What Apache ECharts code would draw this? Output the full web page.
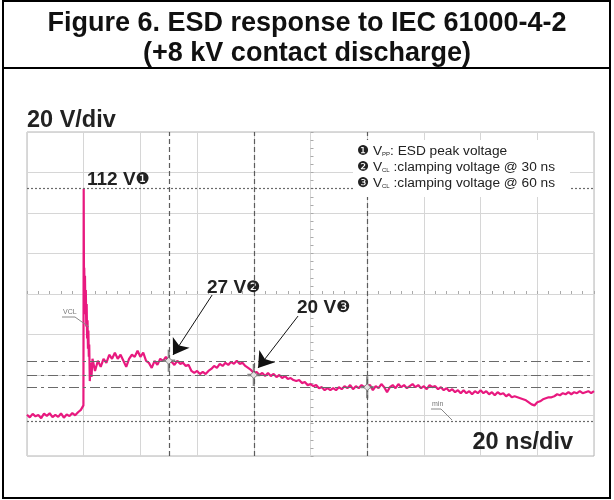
<!DOCTYPE html>
<html>
<head>
<meta charset="utf-8">
<script src="https://cdn.jsdelivr.net/npm/echarts@6/dist/echarts.min.js"></script>
<style>
  html, body { margin: 0; padding: 0; background: #fff; }
  #chart { width: 614px; height: 500px; }
</style>
</head>
<body>
<div id="chart"></div>
<script>
// scope trace: [time in ns (trigger = 0), volts]
var preTrigger = [
  [-20, 0.4], [-19, -0.9], [-18, 0.8], [-17, -0.4], [-16, 0.2], [-15, -1.3], [-14, 0.9], [-13, -0.2],
  [-12, 1.1], [-11, -0.8], [-10, 0.3], [-9, -0.7], [-8, 1.0], [-7, -1.1], [-6, 0.5], [-5, -0.3],
  [-4, 1.2], [-3, 0.1], [-2, 1.6], [-1, 2.8], [-0.4, 3.5]
]
var pulseEdge = [
  [-0.1, 5], [0, 112], [0.1, 64], [0.2, 73], [0.32, 56], [0.45, 69], [0.6, 50], [0.75, 62],
  [0.9, 44], [1.05, 55], [1.2, 38], [1.35, 47], [1.5, 33], [1.65, 42], [1.8, 29], [1.95, 35],
  [2.15, 17], [2.45, 26], [2.75, 19], [3.1, 28]
]
var clampTail = [
  [4, 22], [5, 27], [6, 24], [7, 28], [8, 26], [9, 30], [10, 28], [11, 31], [12, 28], [13, 30],
  [14, 27], [15, 24], [16, 28], [17, 30], [18, 29], [19, 32], [20, 29], [21, 31], [22, 27], [23, 26],
  [24, 23.5], [25, 27], [26, 25], [27, 28], [28, 27], [29, 29], [30, 27],
  [31, 26.5], [32, 25], [33, 27], [34, 25.5], [35, 26], [36, 24.5], [37, 25], [38, 22], [39, 21], [40, 22],
  [41, 20.5], [42, 21.5], [43, 20.5], [44, 22], [45, 23], [46, 24.5], [47, 23.5], [48, 25.5], [49, 24.5], [50, 26],
  [51, 25], [52, 26.5], [53, 25.5], [54, 27], [55, 25.5], [56, 26], [57, 24.5], [58, 23.5], [59, 22.5], [60, 21],
  [61, 21.5], [62, 20], [63, 21], [64, 19.5], [65, 21], [66, 19.5], [67, 20.5], [68, 19], [69, 20], [70, 18.5],
  [71, 19.5], [72, 18], [73, 18.5], [74, 17.5], [75, 17], [76, 17.5], [77, 16], [78, 16.5], [79, 15], [80, 15.5],
  [81, 14.5], [82, 15], [83, 13.5], [84, 14], [85, 12.5], [86, 13.5], [87, 12.5], [88, 13.5], [89, 12.5], [90, 14],
  [91, 13], [92, 14.5], [93, 13.5], [94, 15], [95, 13], [96, 14.5], [97, 13.5], [98, 15], [99, 14], [100, 14.5],
  [101, 15], [102, 12.5], [103, 14.5], [104, 13.5], [105, 15.5], [106, 14], [107, 11.5], [108, 14], [109, 15], [110, 13.5],
  [111, 15.5], [112, 14], [113, 15], [114, 13.5], [115, 14.5], [116, 15.5], [117, 14], [118, 15], [119, 13.5], [120, 14.5],
  [121, 13], [122, 15], [123, 14], [124, 14.5], [125, 13], [126, 14], [127, 12.5], [128, 13.5], [129, 12], [130, 13],
  [131, 11.5], [132, 12.5], [133, 11], [134, 12.5], [135, 11], [136, 12], [137, 10.5], [138, 12], [139, 11], [140, 12.5],
  [141, 11], [142, 12], [143, 10.5], [144, 11.5], [145, 10], [146, 11.5], [147, 10.5], [148, 11], [149, 9.5], [150, 10.5],
  [151, 9], [152, 9.5], [153, 9], [154, 8.5], [155, 8], [156, 7.5], [157, 6.5], [158, 5.5], [159, 5], [160, 6.5],
  [161, 7], [162, 8], [163, 8.5], [164, 9], [165, 9], [166, 9.5], [167, 10.5], [168, 10], [169, 11], [170, 10.5],
  [171, 11.5], [172, 10.5], [173, 11.5], [174, 11], [175, 12], [176, 11], [177, 11.5], [178, 12], [179, 11], [180, 12]
]

var cursorTimes = [30, 60, 100]   // ns
var cursorVolts = [27, 20, 14]    // V
var peakVolt = 112
var refVolt = -3
var timeRange = [-20, 180]  // 20 ns/div
var voltRange = [-20, 140]  // 20 V/div

var trace = preTrigger.concat(pulseEdge, clampTail)
var cursorPoints = cursorTimes.map(function (t, i) { return [t, cursorVolts[i]] })

var gridColor = '#d6d6d6'
var cursorColor = '#5c5c5c'
var plusPath = 'path://M5,0L7,0L7,8L12,8L12,10L7,10L7,18L5,18L5,10L0,10L0,8L5,8Z'
var boldFont = '"Liberation Sans", Arial, sans-serif'

var myChart = echarts.init(document.getElementById('chart'))

var option = {
  animation: false,
  title: {
    text: 'Figure 6. ESD response to IEC 61000-4-2\n(+8 kV contact discharge)',
    left: 'center',
    top: 4,
    textStyle: {
      fontFamily: boldFont,
      fontWeight: 'bold',
      fontSize: 27,
      lineHeight: 30,
      color: '#111'
    }
  },
  grid: {
    left: 27,
    top: 132,
    width: 567,
    height: 324,
    show: true,
    borderColor: '#b4b4b4',
    borderWidth: 1,
    backgroundColor: '#fff'
  },
  xAxis: [
    {
      type: 'value', min: timeRange[0], max: timeRange[1], interval: 20,
      axisLine: { show: false }, axisTick: { show: false }, axisLabel: { show: false },
      splitLine: { show: true, lineStyle: { color: gridColor, width: 1 } }
    },
    {
      // centre horizontal line with minor ticks, like a scope graticule
      type: 'value', min: timeRange[0], max: timeRange[1], interval: 20,
      axisLine: { show: true, onZero: true, onZeroAxisIndex: 1, lineStyle: { color: gridColor } },
      axisTick: { show: true, length: 3, lineStyle: { color: '#aaa' } },
      minorTick: { show: true, splitNumber: 5, length: 3, lineStyle: { color: '#aaa' } },
      axisLabel: { show: false }, splitLine: { show: false }
    },
    { type: 'value', min: -5, max: 5, show: false }
  ],
  yAxis: [
    {
      type: 'value', min: voltRange[0], max: voltRange[1], interval: 20,
      axisLine: { show: false }, axisTick: { show: false }, axisLabel: { show: false },
      splitLine: { show: true, lineStyle: { color: gridColor, width: 1 } }
    },
    { type: 'value', min: -4, max: 4, show: false },
    {
      type: 'value', min: voltRange[0], max: voltRange[1], interval: 20,
      axisLine: { show: true, onZero: true, onZeroAxisIndex: 2, lineStyle: { color: gridColor } },
      axisTick: { show: true, length: 3, lineStyle: { color: '#aaa' } },
      minorTick: { show: true, splitNumber: 5, length: 3, lineStyle: { color: '#aaa' } },
      axisLabel: { show: false }, splitLine: { show: false }
    }
  ],
  series: [
    {
      // cursors
      type: 'line',
      data: [],
      silent: true,
      markLine: {
        silent: true,
        symbol: 'none',
        label: { show: false },
        data: [
          { xAxis: cursorTimes[0], lineStyle: { type: [5, 3], color: cursorColor, width: 1.2 } },
          { xAxis: cursorTimes[1], lineStyle: { type: [5, 3], color: cursorColor, width: 1.2 } },
          { xAxis: cursorTimes[2], lineStyle: { type: [5, 3], color: cursorColor, width: 1.2 } },
          { yAxis: cursorVolts[0], lineStyle: { type: [10, 4, 3, 4], color: '#6a6a6a', width: 1.2 } },
          { yAxis: cursorVolts[1], lineStyle: { type: [10, 4, 3, 4], color: '#6a6a6a', width: 1.2 } },
          { yAxis: cursorVolts[2], lineStyle: { type: [10, 4, 3, 4], color: '#6a6a6a', width: 1.2 } },
          { yAxis: peakVolt, lineStyle: { type: [2, 2], color: '#6a6a6a', width: 1.2 } },
          { yAxis: refVolt, lineStyle: { type: [2, 2], color: '#6a6a6a', width: 1.2 } }
        ]
      }
    },
    {
      name: 'ESD',
      type: 'line',
      data: trace,
      showSymbol: false,
      lineStyle: { color: '#e8197f', width: 2.2 },
      itemStyle: { color: '#e8197f' }
    },
    {
      type: 'scatter',
      data: cursorPoints,
      symbol: plusPath,
      symbolSize: [13, 22],
      itemStyle: { color: '#737373', opacity: 0.85 },
      z: 4
    },
    {
      type: 'scatter',
      data: cursorPoints,
      symbol: 'diamond',
      symbolSize: 7,
      itemStyle: { color: '#fff', borderColor: '#666', borderWidth: 1 },
      z: 5
    },
    {
      // arrows to the measured points
      type: 'line',
      data: [],
      silent: true,
      z: 6,
      markLine: {
        silent: true,
        symbol: ['none', 'arrow'],
        symbolSize: 15,
        label: { show: false },
        lineStyle: { type: 'solid', color: '#111', width: 1 },
        itemStyle: { color: '#111' },
        data: [
          [{ coord: [45.3, 59.5] }, { coord: [31.5, 29.9] }],
          [{ coord: [75.6, 49.1] }, { coord: [61.5, 23.5] }]
        ]
      }
    }
  ],
  graphic: [
    { type: 'rect', z: 50, shape: { x: 3, y: 1, width: 607, height: 497 }, style: { fill: 'none', stroke: '#000', lineWidth: 2 } },
    { type: 'line', z: 50, shape: { x1: 3, y1: 68, x2: 610, y2: 68 }, style: { stroke: '#000', lineWidth: 2 } },
    {
      type: 'text', z: 50, x: 27, y: 121,
      style: { text: '20 V/div', font: 'bold 23.5px ' + boldFont, fill: '#222', textVerticalAlign: 'middle', verticalAlign: 'middle' }
    },
    {
      type: 'text', z: 50, x: 573, y: 443,
      style: { text: '20 ns/div', font: 'bold 23.5px ' + boldFont, fill: '#222', textAlign: 'right', align: 'right', textVerticalAlign: 'middle', verticalAlign: 'middle' }
    },
    {
      type: 'text', z: 50, x: 87, y: 180,
      style: {
        text: '112 V{n|❶}', font: 'bold 19px ' + boldFont, fill: '#222', textVerticalAlign: 'middle', verticalAlign: 'middle',
        rich: { n: { fontFamily: 'DejaVu Sans', fontSize: 16, fill: '#222' } }
      }
    },
    {
      type: 'text', z: 50, x: 207, y: 288,
      style: {
        text: '27 V{n|❷}', font: 'bold 19px ' + boldFont, fill: '#222', textVerticalAlign: 'middle', verticalAlign: 'middle',
        rich: { n: { fontFamily: 'DejaVu Sans', fontSize: 16, fill: '#222' } }
      }
    },
    {
      type: 'text', z: 50, x: 297, y: 308,
      style: {
        text: '20 V{n|❸}', font: 'bold 19px ' + boldFont, fill: '#222', textVerticalAlign: 'middle', verticalAlign: 'middle',
        rich: { n: { fontFamily: 'DejaVu Sans', fontSize: 16, fill: '#222' } }
      }
    },
    // legend box
    { type: 'rect', z: 40, shape: { x: 353, y: 140, width: 217, height: 57 }, style: { fill: '#fff' } },
    {
      type: 'text', z: 50, x: 357, y: 143,
      style: {
        text: '{n|❶} V{s|PP}: ESD peak voltage\n{n|❷} V{s|CL} :clamping voltage @ 30 ns\n{n|❸} V{s|CL} :clamping voltage @ 60 ns',
        font: '13.7px "Liberation Sans"', fill: '#222', lineHeight: 16,
        rich: {
          n: { fontFamily: 'DejaVu Sans', fontSize: 13.5, fill: '#222', lineHeight: 16 },
          s: { fontFamily: 'Liberation Sans', fontSize: 6, fill: '#222', lineHeight: 16, padding: [6, 0, 0, 0] }
        }
      }
    },
    // small scope labels
    { type: 'text', z: 50, x: 63, y: 309, style: { text: 'VCL', font: '7px "Liberation Sans"', fill: '#777' } },
    { type: 'polyline', z: 50, shape: { points: [[62, 317], [75, 317], [89, 327]] }, style: { stroke: '#888', lineWidth: 1, fill: 'none' } },
    { type: 'text', z: 50, x: 432, y: 401, style: { text: 'min', font: '7px "Liberation Sans"', fill: '#777' } },
    { type: 'polyline', z: 50, shape: { points: [[431, 409], [441, 409], [452, 420]] }, style: { stroke: '#888', lineWidth: 1, fill: 'none' } }
  ]
}

myChart.setOption(option)
</script>
</body>
</html>
